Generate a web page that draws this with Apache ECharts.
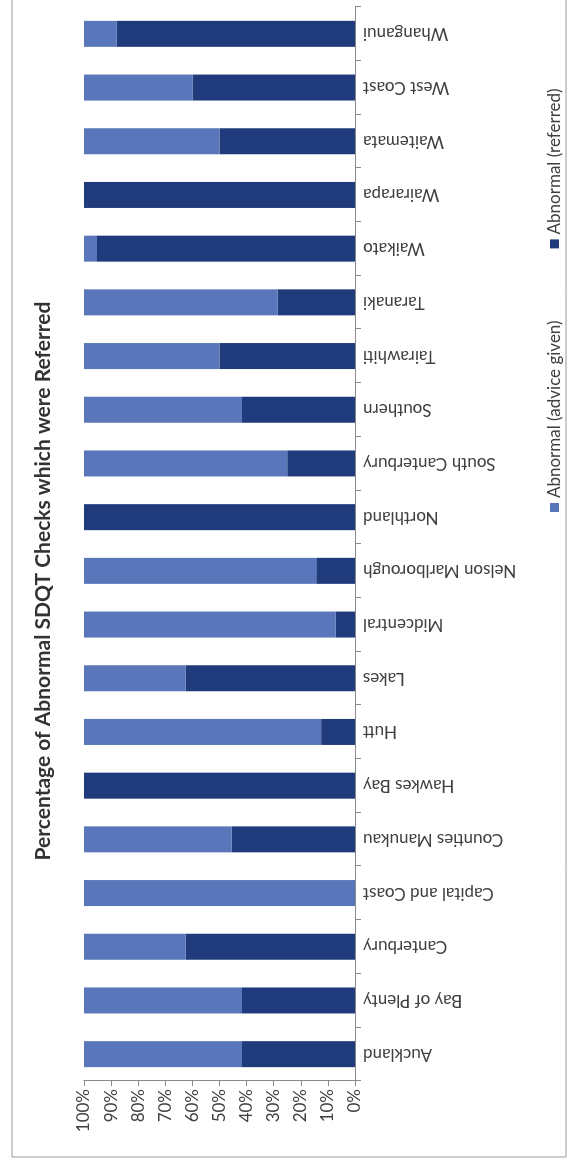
<!DOCTYPE html>
<html lang="en">
  <head>
    <meta charset="UTF-8" />
    <title>Abnormal SDQT Checks</title>
    <script src="https://cdn.jsdelivr.net/npm/echarts@6/dist/echarts.min.js"></script>
    <style>
      body {
        margin: 0;
        background: #fff;
        width: 568px;
        height: 1162px;
        overflow: hidden;
        position: relative;
      }
      /* chart is drawn the normal way then turned a quarter left */
      #main {
        position: absolute;
        left: 0;
        top: 0;
        width: 1162px;
        height: 568px;
        transform-origin: 0 0;
        transform: translate(0, 1162px) rotate(-90deg);
      }
    </style>
  </head>
  <body>
    <div id="main"></div>
    <script>
      var regions = [
        "Auckland", "Bay of Plenty", "Canterbury", "Capital and Coast",
        "Counties Manukau", "Hawkes Bay", "Hutt", "Lakes", "Midcentral",
        "Nelson Marlborough", "Northland", "South Canterbury", "Southern",
        "Tairawhiti", "Taranaki", "Waikato", "Wairarapa", "Waitemata",
        "West Coast", "Whanganui"
      ];
      // % referred (dark part)
      var referred = [41.7, 41.7, 62.5, 0, 45.5, 100, 12.5, 62.5, 7.1, 14.3,
        100, 25, 41.7, 50, 28.6, 95.2, 100, 50, 60, 88];
      // % advice given (light part)
      var adviceGiven = [58.3, 58.3, 37.5, 100, 54.5, 0, 87.5, 37.5, 92.9, 85.7,
        0, 75, 58.3, 50, 71.4, 4.8, 0, 50, 40, 12];
      var seriesNames = ["Abnormal (advice given)", "Abnormal (referred)"];
      var titleText = "Percentage of Abnormal SDQT Checks which were Referred";

      var font = "Lato, 'Noto Sans', sans-serif";
      var chart = echarts.init(document.getElementById("main"));

      var option = {
        backgroundColor: "#fff",
        animation: false,
        textStyle: { fontFamily: font },
        title: {
          text: titleText,
          left: "center",
          top: 28,
          textStyle: {
            fontFamily: font,
            fontSize: 21,
            fontWeight: "bold",
            color: "#333"
          }
        },
        legend: {
          data: seriesNames,
          left: 645,
          top: 541,
          itemWidth: 9,
          itemHeight: 9,
          itemGap: 72,
          icon: "rect",
          textStyle: { fontFamily: font, fontSize: 17, color: "#404040" }
        },
        grid: { left: 81, right: 7, top: 84, bottom: 213 },
        xAxis: {
          type: "category",
          data: regions,
          axisLine: { lineStyle: { color: "#8a8a8a" } },
          axisTick: { show: true, length: 6, lineStyle: { color: "#8a8a8a" } },
          axisLabel: {
            rotate: 90,
            margin: 8,
            interval: 0,
            fontFamily: font,
            fontSize: 17,
            color: "#404040"
          }
        },
        yAxis: {
          type: "value",
          min: 0,
          max: 100,
          interval: 10,
          axisLine: { show: true, lineStyle: { color: "#8a8a8a" } },
          axisTick: { show: true, length: 5, lineStyle: { color: "#8a8a8a" } },
          splitLine: { show: false },
          axisLabel: {
            formatter: "{value}%",
            margin: 8,
            fontFamily: font,
            fontSize: 17,
            color: "#404040"
          }
        },
        series: [
          {
            name: seriesNames[1],
            type: "bar",
            stack: "pct",
            barWidth: 26,
            itemStyle: { color: "#1f3b7b" },
            data: referred
          },
          {
            name: seriesNames[0],
            type: "bar",
            stack: "pct",
            barWidth: 26,
            itemStyle: { color: "#5876b9" },
            data: adviceGiven
          }
        ],
        graphic: [
          {
            type: "rect",
            shape: { x: 5, y: 12, width: 1170, height: 554 },
            style: { fill: "none", stroke: "#9a9a9a", lineWidth: 1 },
            silent: true
          }
        ]
      };
      chart.setOption(option);
    </script>
  </body>
</html>
